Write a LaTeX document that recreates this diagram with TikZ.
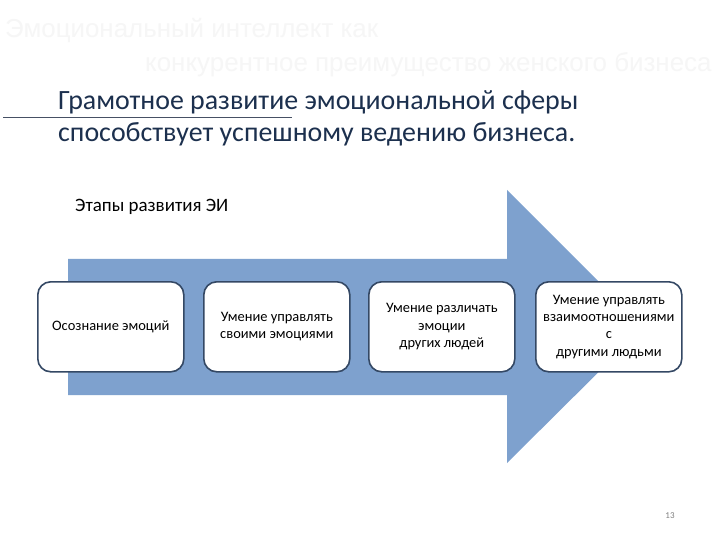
\documentclass[tikz,border=0pt]{standalone}
\usepackage{fontspec}
\setmainfont{Carlito}
\newfontfamily\titlefont{Liberation Sans}
\definecolor{arrowblue}{RGB}{126,161,206}
\definecolor{boxedge}{RGB}{52,72,100}
\definecolor{subtxt}{RGB}{28,48,78}
\definecolor{titletxt}{RGB}{246,246,246}
\definecolor{rulecol}{RGB}{70,80,100}
\tikzset{
  stagebox/.style={draw=boxedge, line width=1.6pt, fill=white, rounded corners=13pt,
    minimum width=146bp, minimum height=90bp, align=center, inner sep=1pt,
    font=\fontsize{14.5}{17.5}\selectfont, anchor=north west},
  titletext/.style={text=titletxt, font=\titlefont\fontsize{26}{30}\selectfont, anchor=base west, inner sep=0pt},
  subtext/.style={text=subtxt, font=\fontsize{28}{32}\selectfont, anchor=base west, inner sep=0pt}
}
\begin{document}
\begin{tikzpicture}[x=1bp,y=-1bp]
\useasboundingbox (0,0) rectangle (720,540);
\fill[white] (0,0) rectangle (720,540);
% title
\node[titletext] (t1) at (5,38) {Эмоциональный интеллект как};
\node[titletext] (t2) at (145,72) {конкурентное преимущество женского бизнеса};
% subtitle
\node[subtext] (s1) at (58,110) {Грамотное развитие эмоциональной сферы};
\node[subtext] (s2) at (58,142) {способствует успешному ведению бизнеса.};
\coordinate (ra) at (3,117);
\coordinate (rb) at (292,117);
\draw[rulecol, line width=0.8pt] (ra) -- (rb);
% label
\node[anchor=base west, inner sep=0pt, font=\fontsize{19}{22}\selectfont] (lab) at (75,212) {Этапы развития ЭИ};
% arrow
\fill[arrowblue] (68,259) -- (507,259) -- (507,190) -- (644,327) -- (507,463) -- (507,395) -- (68,395) -- cycle;
% boxes
\node[stagebox] (b1) at (37,281) {Осознание эмоций};
\node[stagebox] (b2) at (203,281) {Умение управлять\\своими эмоциями};
\node[stagebox] (b3) at (368,281) {Умение различать\\эмоции\\других людей};
\node[stagebox] (b4) at (535,281) {Умение управлять\\взаимоотношениями\\с\\другими людьми};
% page number
\node[anchor=base, inner sep=0pt, text=gray, font=\fontsize{9}{11}\selectfont] (pg) at (670,518) {13};
\end{tikzpicture}
\end{document}
